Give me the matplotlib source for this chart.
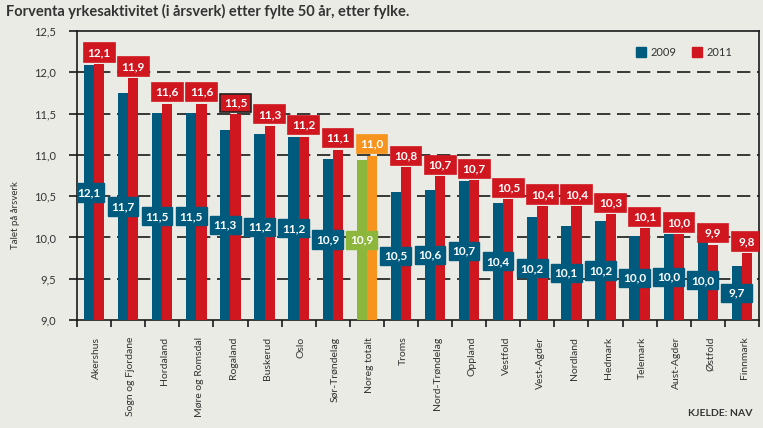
import matplotlib.pyplot as plt
from matplotlib.patches import Rectangle, Patch
import numpy as np

# Data
fylke = ['Akershus', 'Sogn og Fjordane', 'Hordaland', 'Møre og Romsdal', 'Rogaland',
         'Buskerud', 'Oslo', 'Sør-Trøndelag', 'Noreg totalt', 'Troms', 'Nord-Trøndelag',
         'Oppland', 'Vestfold', 'Vest-Agder', 'Nordland', 'Hedmark', 'Telemark',
         'Aust-Agder', 'Østfold', 'Finnmark']
v2009 = [12.09, 11.75, 11.51, 11.51, 11.30, 11.25, 11.22, 10.95, 10.94, 10.55,
         10.57, 10.68, 10.42, 10.25, 10.14, 10.20, 10.02, 10.04, 9.96, 9.65]
v2011 = [12.10, 11.93, 11.62, 11.62, 11.49, 11.35, 11.22, 11.06, 10.99, 10.85,
         10.74, 10.69, 10.46, 10.38, 10.38, 10.28, 10.11, 10.04, 9.91, 9.81]
lab2009 = ['12,1', '11,7', '11,5', '11,5', '11,3', '11,2', '11,2', '10,9', '10,9', '10,5',
           '10,6', '10,7', '10,4', '10,2', '10,1', '10,2', '10,0', '10,0', '10,0', '9,7']
lab2011 = ['12,1', '11,9', '11,6', '11,6', '11,5', '11,3', '11,2', '11,1', '11,0', '10,8',
           '10,7', '10,7', '10,5', '10,4', '10,4', '10,3', '10,1', '10,0', '9,9', '9,8']

BLUE = '#005a7e'
RED = '#d0161f'
GREEN = '#8db63c'
ORANGE = '#f7941d'
BG = '#ebebe5'
TXT = '#333333'

plt.rcParams['font.family'] = ['Lato', 'DejaVu Sans']

fig = plt.figure(figsize=(7.63, 4.28), dpi=100, facecolor=BG)
ax = fig.add_axes([77/763, 108/428, 682/763, 289/428])
ax.set_facecolor(BG)

x = np.arange(len(fylke))
w = 0.3
c09 = [GREEN if f == 'Noreg totalt' else BLUE for f in fylke]
c11 = [ORANGE if f == 'Noreg totalt' else RED for f in fylke]
ax.bar(x - w/2, v2009, w, bottom=0, color=c09, zorder=3)
ax.bar(x + w/2, v2011, w, bottom=0, color=c11, zorder=3)

ax.set_xlim(-0.5, len(fylke) - 0.5)
ax.set_ylim(9.0, 12.5)

# dashed grid
for g in [9.5, 10.0, 10.5, 11.0, 11.5, 12.0]:
    ax.axhline(g, color='#1a1a1a', lw=1.2, ls=(0, (8, 4)), zorder=1)

# value labels
bw, bh = 0.9, 0.22
for i in range(len(fylke)):
    # 2009 label in middle of the bar
    yc = (9.0 + v2009[i]) / 2
    ax.add_patch(Rectangle((x[i] - w/2 - bw/2, yc - bh/2), bw, bh, color=c09[i], zorder=4))
    ax.text(x[i] - w/2, yc, lab2009[i], color='white', fontsize=8.5, fontweight='bold',
            ha='center', va='center', zorder=5)
    # 2011 label above the bar
    yb = v2011[i] + 0.03
    ec = '#222222' if fylke[i] == 'Rogaland' else c11[i]
    ax.add_patch(Rectangle((x[i] + w/2 - bw/2, yb), bw, bh, facecolor=c11[i], edgecolor=ec,
                           lw=1.2, zorder=4))
    ax.text(x[i] + w/2, yb + bh/2, lab2011[i], color='white', fontsize=8.5, fontweight='bold',
            ha='center', va='center', zorder=5)

# axes / ticks
for s in ax.spines.values():
    s.set_color('#1a1a1a')
    s.set_linewidth(1.2)
yt = [9.0, 9.5, 10.0, 10.5, 11.0, 11.5, 12.0, 12.5]
ax.set_yticks(yt)
ax.set_yticklabels([f'{v:.1f}'.replace('.', ',') for v in yt], fontsize=8, color=TXT)
ax.tick_params(axis='y', length=6, width=1.2, color='#1a1a1a', pad=9)

ax.set_xticks(x + 0.08)
ax.set_xticklabels(fylke, rotation=90, fontsize=7.5, color=TXT, va='top', ha='center')
ax.tick_params(axis='x', which='major', length=0, pad=12)
ax.set_xticks(np.arange(-0.5, len(fylke)), minor=True)
ax.tick_params(axis='x', which='minor', length=5, width=1.2, color='#1a1a1a')

# legend
handles = [Patch(color=BLUE, label='2009'), Patch(color=RED, label='2011')]
ax.legend(handles=handles, loc='upper right', bbox_to_anchor=(0.975, 0.98), ncol=2,
          frameon=False, fontsize=8, handlelength=0.9, handleheight=0.9,
          handletextpad=0.4, columnspacing=1.4, labelcolor=TXT)

fig.text(15/763, 1 - 215/428, 'Talet på årsverk', rotation=90, fontsize=7, color=TXT,
         ha='center', va='center')
fig.text(6/763, 1 - 11/428, 'Forventa yrkesaktivitet (i årsverk) etter fylte 50 år, etter fylke.',
         fontsize=10.5, fontweight='bold', color=TXT, ha='left', va='center')
fig.text(752/763, 1 - 413/428, 'KJELDE: NAV', fontsize=7.5, fontweight='bold', color=TXT,
         ha='right', va='center')

fig.savefig('out.png', dpi=100, facecolor=BG)
